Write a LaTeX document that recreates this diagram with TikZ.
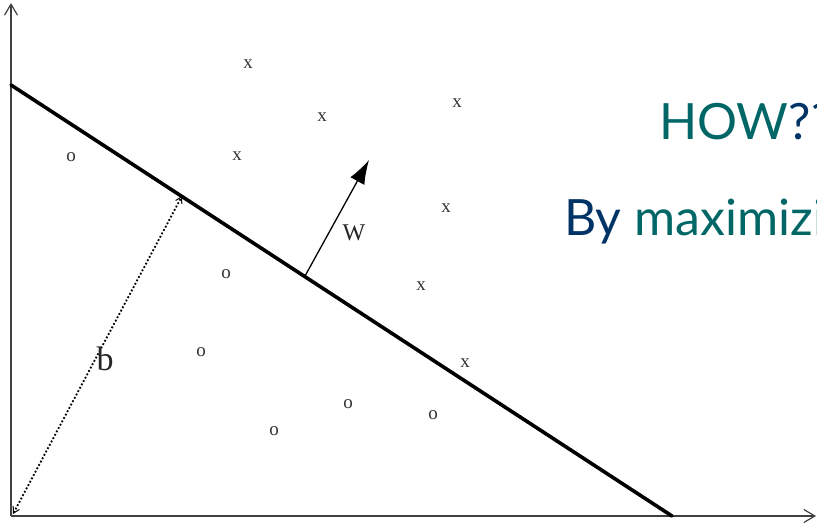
\documentclass[tikz,border=0pt]{standalone}
\usepackage{fontspec}
\setmainfont{Liberation Serif}
\newfontfamily\slidefont{Lato}
\usetikzlibrary{arrows.meta}
\definecolor{tealtxt}{RGB}{0,102,102}
\definecolor{navytxt}{RGB}{0,51,102}
\tikzset{
  axis/.style={line width=1.5pt, draw=black!75, -{Straight Barb[length=11pt,width=13pt,line width=1.2pt]}},
  hyper/.style={line width=3.6pt, line cap=round},
  pt/.style={font=\fontsize{19}{19}\selectfont, text=black!80, inner sep=0pt},
  lbl/.style={inner sep=0pt, text=black!85},
  wvec/.style={line width=1.3pt, -{Latex[length=24pt,width=16pt]}},
  bvec/.style={line width=1.8pt, dotted, {Straight Barb[length=6pt,width=7pt,line width=1pt]}-{Straight Barb[length=6pt,width=7pt,line width=1pt]}},
  slide/.style={font=\slidefont\fontsize{50}{50}\selectfont, anchor=base west, inner sep=0pt}
}
\begin{document}
\begin{tikzpicture}[x=1pt,y=-1pt]
\useasboundingbox (0,0) rectangle (817,523);
\fill[white] (0,0) rectangle (817,523);
\clip (0,0) rectangle (817,523);
% axes
\coordinate (O) at (11,516);
\coordinate (ytop) at (11,3);
\coordinate (xend) at (816,516);
\draw[axis] (O) -- (ytop);
\draw[axis] (O) -- (xend);
% hyperplane
\coordinate (hA) at (11,85);
\coordinate (hB) at (672,516);
\draw[hyper] (hA) -- (hB);
% w vector
\coordinate (wbase) at (305,276);
\coordinate (wtip) at (369,160);
\draw[wvec] (wbase) -- (wtip);
\node[lbl, font=\fontsize{24}{24}\selectfont] (wlab) at (354,233) {W};
% b distance
\coordinate (bstart) at (13,514);
\coordinate (bfoot) at (182,196);
\draw[bvec] (bstart) -- (bfoot);
\node[lbl, font=\fontsize{34}{34}\selectfont] (blab) at (105,359) {b};
% x points
\node[pt] (x1) at (248,64) {x};
\node[pt] (x2) at (322,117) {x};
\node[pt] (x3) at (457,103) {x};
\node[pt] (x4) at (237,156) {x};
\node[pt] (x5) at (446,208) {x};
\node[pt] (x6) at (421,286) {x};
\node[pt] (x7) at (465,363) {x};
% o points
\node[pt] (o1) at (71,157) {o};
\node[pt] (o2) at (226,274) {o};
\node[pt] (o3) at (201,352) {o};
\node[pt] (o4) at (348,404) {o};
\node[pt] (o5) at (433,415) {o};
\node[pt] (o6) at (274,431) {o};
% slide text
\node[slide] (how) at (659,139) {\textcolor{tealtxt}{HOW}\textcolor{navytxt}{??}};
\node[slide] (bymax) at (564,235) {\textcolor{navytxt}{By} \textcolor{tealtxt}{maximizing}};
\end{tikzpicture}
\end{document}
